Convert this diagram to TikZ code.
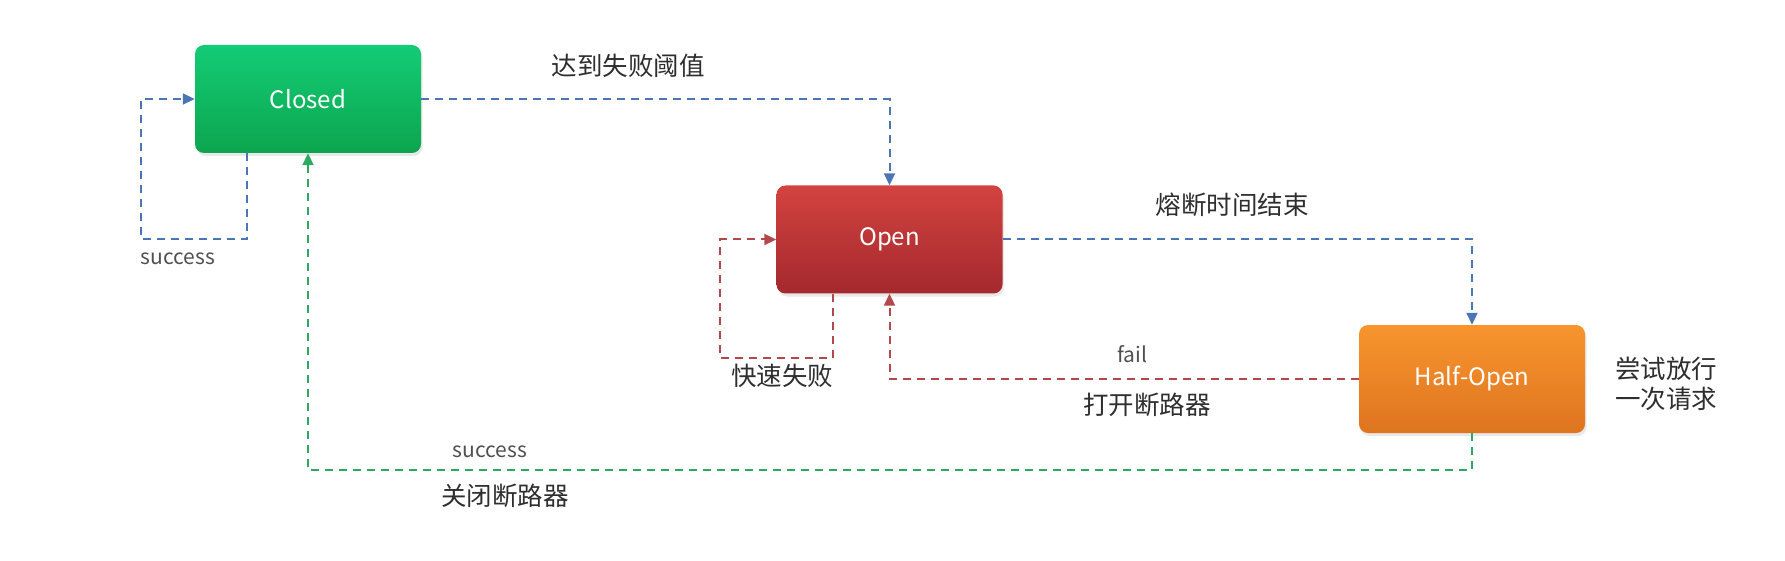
\documentclass[tikz,border=0pt]{standalone}
\usepackage{fontspec}
\setmainfont{Noto Sans CJK SC}
\usetikzlibrary{arrows.meta,shadows}
\definecolor{lblue}{HTML}{4A76B6}
\definecolor{lred}{HTML}{B4474C}
\definecolor{lgreen}{HTML}{2DAA62}
\definecolor{txt}{HTML}{2E2E2E}
\definecolor{gtxt}{HTML}{505050}
\definecolor{gtop}{HTML}{13CC75}
\definecolor{gbot}{HTML}{0DA54F}
\definecolor{rtop}{HTML}{D34340}
\definecolor{rbot}{HTML}{A4282D}
\definecolor{otop}{HTML}{F8952E}
\definecolor{obot}{HTML}{DE741F}
\tikzset{
  state/.style={rounded corners=9pt, minimum width=226pt, minimum height=108pt,
    text=white, font=\fontsize{24}{28}\selectfont,
    drop shadow={shadow xshift=1.5pt, shadow yshift=-3pt, opacity=0.18}},
  conn/.style={line width=2pt, dash pattern=on 8pt off 6pt,
    -{Triangle[length=12pt,width=11pt]}},
  cnlabel/.style={text=txt, font=\fontsize{25.5}{30}\selectfont, inner sep=0pt},
  enlabel/.style={text=gtxt, font=\fontsize{21}{25}\selectfont, inner sep=0pt},
}
\begin{document}
\begin{tikzpicture}[x=1pt,y=-1pt]
\useasboundingbox (0,0) rectangle (1785,561);
\node[state, top color=gtop, bottom color=gbot] (closed) at (308,99) {Closed};
\node[state, top color=rtop, bottom color=rbot] (open) at (889.5,239.5) {Open};
\node[state, top color=otop, bottom color=obot] (half) at (1472,379) {Half-Open};

\coordinate (cl1) at (141,239);
\coordinate (ol1) at (720,358);
\coordinate (gl1) at (900,470);

\draw[conn, lblue] ([xshift=-61pt]closed.south) |- (cl1) |- (closed.west);
\draw[conn, lblue] (closed.east) -| (open.north);
\draw[conn, lred] ([xshift=-57pt]open.south) |- (ol1) |- (open.west);
\draw[conn, lblue] (open.east) -| (half.north);
\draw[conn, lred] (half.west) -| (open.south);
\draw[conn, lgreen] (half.south) |- (gl1) -| (closed.south);

\node[enlabel] (l1) at (178,259) {success};
\node[cnlabel] (l2) at (628,66) {达到失败阈值};
\node[cnlabel] (l3) at (782,376) {快速失败};
\node[cnlabel] (l4) at (1232,205) {熔断时间结束};
\node[enlabel] (l5) at (1132,354) {fail};
\node[cnlabel] (l6) at (1147,405) {打开断路器};
\node[enlabel] (l7) at (490,452) {success};
\node[cnlabel] (l8) at (505,496) {关闭断路器};
\node[cnlabel, align=left] (l9) at (1666,384) {尝试放行\\一次请求};
\end{tikzpicture}
\end{document}
